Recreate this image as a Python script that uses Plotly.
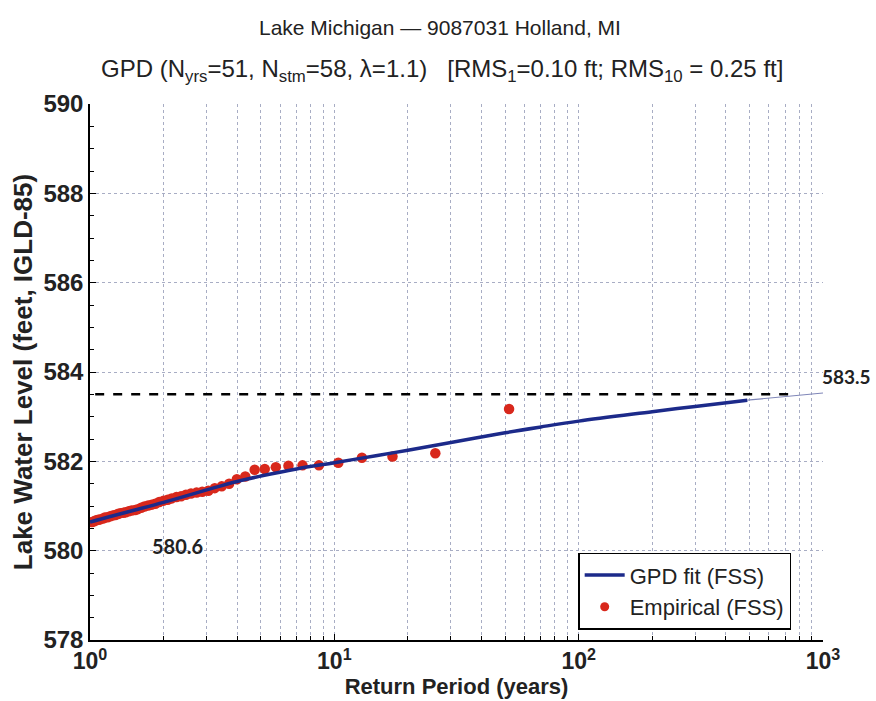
import plotly.graph_objects as go

# ---- data ----
fit_T = [1, 1.2, 1.5, 2, 3, 4, 5, 7, 10, 15, 20, 30, 50, 70, 100, 200, 300, 490]
fit_L = [580.64, 580.76, 580.90, 581.08, 581.36, 581.55, 581.67, 581.83, 581.97,
         582.13, 582.25, 582.42, 582.64, 582.77, 582.90, 583.11, 583.23, 583.37]
ext_T = [490, 700, 1000]
ext_L = [583.37, 583.45, 583.53]

emp_T = [51.9, 25.9, 17.3, 12.97, 10.38, 8.65, 7.41, 6.49, 5.76, 5.19, 4.72, 4.32, 3.99,
         3.71, 3.46, 3.24, 3.05, 2.88, 2.73, 2.59, 2.47, 2.36, 2.26, 2.16, 2.08, 2.00,
         1.92, 1.85, 1.79, 1.73, 1.67, 1.62, 1.57, 1.53, 1.48, 1.44, 1.40, 1.37, 1.33,
         1.30, 1.27, 1.24, 1.21, 1.18, 1.15, 1.13, 1.10, 1.08, 1.06, 1.04, 1.02]
emp_L = [583.17, 582.18, 582.11, 582.08, 581.97, 581.91, 581.91, 581.90, 581.87, 581.83,
         581.81, 581.66, 581.60, 581.50, 581.44, 581.40, 581.34, 581.32, 581.30, 581.28,
         581.25, 581.22, 581.20, 581.17, 581.14, 581.12, 581.09, 581.05, 581.03, 581.01,
         580.99, 580.96, 580.93, 580.91, 580.90, 580.88, 580.86, 580.85, 580.84, 580.82,
         580.80, 580.79, 580.77, 580.75, 580.74, 580.72, 580.70, 580.69, 580.68, 580.66,
         580.64]

ref_T = [1.05, 720]
ref_L = [583.5, 583.5]

x_major = [1, 10, 100, 1000]
x_major_text = ["<b>10<sup>0</sup></b>", "<b>10<sup>1</sup></b>",
                "<b>10<sup>2</sup></b>", "<b>10<sup>3</sup></b>"]
x_minor = [m * 10 ** k for k in range(3) for m in range(2, 10)]
y_ticks = [578, 580, 582, 584, 586, 588, 590]

title_1 = "Lake Michigan \u2014 9087031 Holland, MI"
title_2 = ("GPD (N<sub>yrs</sub>=51, N<sub>stm</sub>=58, \u03bb=1.1)   "
           "[RMS<sub>1</sub>=0.10 ft; RMS<sub>10</sub> = 0.25 ft]")

FONT = "Liberation Sans, Arial"

fig = go.Figure()
fig.add_trace(go.Scatter(x=ref_T, y=ref_L, mode="lines",
                         line=dict(color="black", width=2.5, dash="dash"),
                         showlegend=False, hoverinfo="skip"))
fig.add_trace(go.Scatter(x=ext_T, y=ext_L, mode="lines",
                         line=dict(color="#7f86b8", width=1.2),
                         showlegend=False))
fig.add_trace(go.Scatter(x=emp_T, y=emp_L, mode="markers",
                         marker=dict(color="#d8281c", size=10.5),
                         name="Empirical (FSS)", showlegend=False))
fig.add_trace(go.Scatter(x=fit_T, y=fit_L, mode="lines", line_shape="spline",
                         line=dict(color="#1c2a8a", width=3.5),
                         name="GPD fit (FSS)"))
fig.add_trace(go.Scatter(x=[None], y=[None], mode="markers",
                         marker=dict(color="#d8281c", size=9),
                         name="Empirical (FSS)"))

fig.add_annotation(xref="paper", yref="paper", x=0.478, y=1.1418, xanchor="center",
                   yanchor="middle", showarrow=False, text=title_1,
                   font=dict(family=FONT, size=21, color="#222"))
fig.add_annotation(xref="paper", yref="paper", x=0.48, y=1.0634, xanchor="center",
                   yanchor="middle", showarrow=False, text=title_2,
                   font=dict(family=FONT, size=24, color="#222"))
fig.add_annotation(xref="paper", yref="y", x=1.0, y=583.5, xanchor="left", yanchor="bottom",
                   xshift=-3, yshift=4, showarrow=False, text="<b>583.5</b>",
                   font=dict(family="Lato", size=19, color="#222"))
fig.add_annotation(xref="x", yref="y", x=0.246, y=580.1, xanchor="left", yanchor="middle",
                   showarrow=False, text="<b>580.6</b>",
                   font=dict(family="Lato", size=20, color="#222"))

fig.update_layout(
    width=876, height=701,
    margin=dict(l=90, r=53, t=104, b=61),
    paper_bgcolor="white", plot_bgcolor="white",
    font=dict(family=FONT, size=16, color="#222"),
    showlegend=True,
    legend=dict(x=0.666, y=0.019, xanchor="left", yanchor="bottom",
                bordercolor="black", borderwidth=1.5, bgcolor="white",
                font=dict(size=22), tracegroupgap=0, itemwidth=40),
    xaxis=dict(type="log", range=[0, 3], tickvals=x_major, ticktext=x_major_text,
               ticks="inside", ticklen=6, tickcolor="black", showline=True,
               linecolor="black", linewidth=1.5, showgrid=True, gridcolor="#a8adc4",
               griddash="dot", gridwidth=1, tickfont=dict(size=23),
               minor=dict(tickvals=x_minor, ticks="inside", ticklen=4, tickcolor="black",
                          showgrid=True, gridcolor="#a8adc4", griddash="dot"),
               title=dict(text="<b>Return Period (years)</b>", font=dict(size=22),
                          standoff=0),
               zeroline=False),
    yaxis=dict(range=[578, 590], tickvals=y_ticks, ticktext=[f"<b>{v}</b>" for v in y_ticks],
               ticks="inside", ticklen=6, tickcolor="black", showline=True,
               linecolor="black", linewidth=1.5, showgrid=True, gridcolor="#a8adc4",
               griddash="dot", gridwidth=1, tickfont=dict(size=24),
               minor=dict(dtick=0.5, ticks="inside", ticklen=4, tickcolor="black",
                          showgrid=False),
               title=dict(text="<b>Lake Water Level (feet, IGLD-85)</b>", font=dict(size=26),
                          standoff=3),
               zeroline=False),
)

fig.write_html("out.html")
